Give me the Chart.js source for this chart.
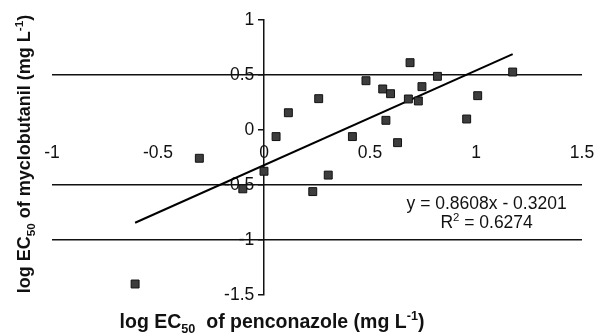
<!DOCTYPE html>
<html lang="en">
<head>
    <meta charset="UTF-8">
    <title>log EC50 myclobutanil vs penconazole</title>
    <script src="https://cdnjs.cloudflare.com/ajax/libs/Chart.js/4.4.1/chart.umd.min.js"></script>
    <style>
        * {
            margin: 0;
            padding: 0;
        }

        body {
            background: #fff;
        }

        canvas {
            display: block;
        }
    </style>
</head>
<body>
    <canvas id="chart" width="594" height="335"></canvas>

    <script>
        // log EC50 values
        const penconazole = [0.689, 0.481, 0.818, 1.173, 0.560, 0.597, 0.745, 0.258, 0.115, 0.681, 0.728, 1.008,
            0.575, 0.956, 0.417, 0.630, 0.057, -0.305, 0.000, -0.100, -0.608, 0.303, 0.230];
        const myclobutanil = [0.612, 0.448, 0.488, 0.527, 0.373, 0.330, 0.394, 0.285, 0.157, 0.282, 0.264, 0.312,
            0.088, 0.100, -0.060, -0.115, -0.060, -0.257, -0.375, -0.535, -1.400, -0.410, -0.560];

        // fitted trendline
        const slope = 0.8608;
        const intercept = -0.3201;
        const rSquared = 0.6274;

        // y values that get a horizontal line
        const lineValues = [0.5, -0.5, -1];

        const fontFamily = "'Liberation Sans', Arial, Helvetica, sans-serif";

        const points = penconazole.map((x, i) => ({ x: x, y: myclobutanil[i] }));
        const xMin = Math.min(...penconazole);
        const xMax = Math.max(...penconazole);
        const trend = [
            { x: xMin, y: slope * xMin + intercept },
            { x: xMax, y: slope * xMax + intercept }
        ];

        // draws text runs with sub/superscripts, centered on x
        function drawRuns(ctx, runs, x, y, size, bold) {
            const weight = bold ? 'bold ' : '';
            let width = 0;
            runs.forEach(r => {
                ctx.font = weight + (r[1] ? size * 0.65 : size) + 'px ' + fontFamily;
                width += ctx.measureText(r[0]).width;
            });
            let cx = x - width / 2;
            runs.forEach(r => {
                const s = r[1] ? size * 0.65 : size;
                ctx.font = weight + s + 'px ' + fontFamily;
                let dy = 0;
                if (r[1] === 'sub') dy = size * 0.25;
                if (r[1] === 'sup') dy = -size * 0.4;
                ctx.fillText(r[0], cx, y + dy);
                cx += ctx.measureText(r[0]).width;
            });
        }

        const textPlugin = {
            id: 'texts',
            afterDraw(chart) {
                const ctx = chart.ctx;
                const xs = chart.scales.x;
                ctx.save();
                ctx.fillStyle = '#111';
                ctx.textAlign = 'left';
                ctx.textBaseline = 'alphabetic';

                // equation text
                const ex = xs.getPixelForValue(1.05);
                drawRuns(ctx, [['y = ' + slope + 'x - ' + Math.abs(intercept), '']], ex, 209, 17.5, false);
                drawRuns(ctx, [['R', ''], ['2', 'sup'], [' = ' + rSquared, '']], ex, 228, 17.5, false);

                // x title
                drawRuns(ctx, [['log EC', ''], ['50', 'sub'], ['  of penconazole (mg L', ''], ['-1', 'sup'], [')', '']],
                    272, 328, 19.5, true);

                // y title
                ctx.translate(30, 154);
                ctx.rotate(-Math.PI / 2);
                drawRuns(ctx, [['log EC', ''], ['50', 'sub'], [' of myclobutanil (mg L', ''], ['-1', 'sup'], [')', '']],
                    0, 0, 18, true);
                ctx.restore();
            }
        };

        // keep label overhang from shrinking the plot area
        function noPadding(scale) {
            scale.paddingLeft = 0;
            scale.paddingRight = 0;
            scale.paddingTop = 0;
            scale.paddingBottom = 0;
        }

        new Chart(document.getElementById('chart'), {
            type: 'scatter',
            data: {
                datasets: [{
                    data: points,
                    pointStyle: 'rect',
                    pointRadius: 5.6,
                    backgroundColor: '#3d3d3d',
                    borderColor: '#111',
                    borderWidth: 1
                }, {
                    type: 'line',
                    data: trend,
                    borderColor: '#000',
                    borderWidth: 2,
                    pointRadius: 0,
                    fill: false
                }]
            },
            options: {
                responsive: false,
                animation: false,
                layout: {
                    padding: { left: 52, right: 12, top: 20, bottom: 40 }
                },
                plugins: {
                    legend: { display: false },
                    tooltip: { enabled: false }
                },
                scales: {
                    x: {
                        type: 'linear',
                        position: { y: 0 },
                        min: -1,
                        max: 1.5,
                        afterFit: noPadding,
                        ticks: {
                            stepSize: 0.5,
                            padding: 13,
                            color: '#111',
                            font: { family: fontFamily, size: 17.5 },
                            callback: v => String(v)
                        },
                        grid: { display: false, drawTicks: false },
                        border: { display: false }
                    },
                    y: {
                        type: 'linear',
                        position: { x: 0 },
                        min: -1.5,
                        max: 1,
                        afterFit: noPadding,
                        ticks: {
                            stepSize: 0.5,
                            color: '#111',
                            font: { family: fontFamily, size: 17.5 },
                            // centred axis draws labels flush to the line, pad with spaces
                            callback: v => String(v) + '  '
                        },
                        grid: {
                            color: c => lineValues.includes(c.tick.value) ? '#111' : 'rgba(0,0,0,0)',
                            tickColor: '#111',
                            tickLength: 5,
                            lineWidth: 1.5
                        },
                        border: { display: true, color: '#111', width: 1.5 }
                    }
                }
            },
            plugins: [textPlugin]
        });
    </script>
</body>
</html>
